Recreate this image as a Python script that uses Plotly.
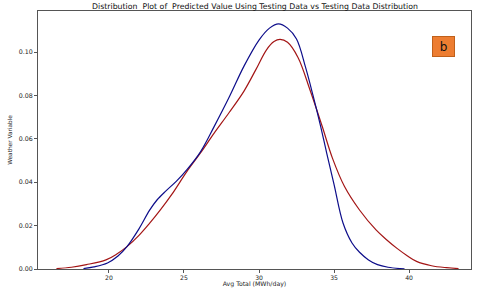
import plotly.graph_objects as go

# Predicted values (blue) density
pred_x = [18.3, 19.0, 19.9, 20.6, 21.2, 22.0, 22.7, 23.2, 23.8, 24.5, 25.2, 26.1, 27.0,
          28.0, 29.0, 30.0, 30.7, 31.3, 31.9, 32.5, 33.1, 33.6, 34.1, 34.5, 35.0, 35.6,
          36.2, 36.7, 37.3, 37.9, 38.6, 39.4, 39.7]
pred_y = [0.0002, 0.0010, 0.0028, 0.0060, 0.0103, 0.0185, 0.0270, 0.0318, 0.0360, 0.0405,
          0.0458, 0.0540, 0.0655, 0.0790, 0.0935, 0.1055, 0.1110, 0.1130, 0.1110, 0.1060,
          0.0930, 0.0800, 0.0660, 0.0538, 0.0390, 0.0212, 0.0120, 0.0077, 0.0042, 0.0020,
          0.0008, 0.0002, 0.0001]

# Testing data (red) density
test_x = [16.5, 17.5, 18.5, 19.8, 20.5, 21.2, 22.0, 22.7, 23.4, 24.2, 25.2, 26.1, 27.0,
          28.0, 29.0, 29.8, 30.5, 31.0, 31.4, 31.9, 32.6, 33.4, 34.2, 34.9, 35.7, 36.7,
          37.8, 38.5, 39.2, 39.9, 40.5, 41.5, 42.5, 43.3]
test_y = [0.0002, 0.0008, 0.0020, 0.0042, 0.0068, 0.0103, 0.0155, 0.0210, 0.0270, 0.0345,
          0.0450, 0.0535, 0.0625, 0.0720, 0.0820, 0.0920, 0.1010, 0.1048, 0.1058, 0.1045,
          0.0975, 0.0825, 0.0660, 0.0510, 0.0380, 0.0272, 0.0180, 0.0135, 0.0095, 0.0060,
          0.0035, 0.0015, 0.0006, 0.0002]

x_ticks = [20, 25, 30, 35, 40]
y_ticks = [0.00, 0.02, 0.04, 0.06, 0.08, 0.10]
y_tick_text = ["0.00", "0.02", "0.04", "0.06", "0.08", "0.10"]

FONT = "DejaVu Sans"

fig = go.Figure()
fig.add_trace(go.Scatter(x=test_x, y=test_y, mode="lines",
                         line=dict(color="#a31515", width=1.2, shape="spline", smoothing=1.0),
                         showlegend=False))
fig.add_trace(go.Scatter(x=pred_x, y=pred_y, mode="lines",
                         line=dict(color="#0d0d8a", width=1.2, shape="spline", smoothing=1.0),
                         showlegend=False))

fig.update_layout(
    width=480, height=288,
    margin=dict(l=38, r=9, t=11, b=19, autoexpand=False),
    paper_bgcolor="white", plot_bgcolor="white",
    font=dict(family=FONT, size=6, color="#222"),
    xaxis=dict(range=[15.27, 44.13], tickvals=x_ticks, showgrid=False, zeroline=False,
               showline=True, linecolor="#555", linewidth=1, mirror=True,
               ticks="outside", ticklen=3, tickcolor="#555", tickfont=dict(size=6.1),
               title=dict(text="Avg Total (MWh/day)", font=dict(size=6.2), standoff=0)),
    yaxis=dict(range=[0, 0.1189], tickvals=y_ticks, ticktext=y_tick_text, showgrid=False,
               zeroline=False, showline=True, linecolor="#555", linewidth=1, mirror=True,
               ticks="outside", ticklen=3, tickcolor="#555", tickfont=dict(size=6.3),
               title=dict(text="Weather Variable", font=dict(size=5.8), standoff=5)),
    annotations=[
        dict(text="Distribution  Plot of  Predicted Value Using Testing Data vs Testing Data Distribution",
             xref="paper", yref="paper", x=0.5, y=1, yshift=5, xanchor="center",
             yanchor="middle", showarrow=False,
             font=dict(family=FONT, size=7.8, color="#111")),
        dict(text="b", xref="paper", yref="paper", x=0.9365, y=0.862,
             xanchor="center", yanchor="middle",
             showarrow=False, font=dict(family=FONT, size=12, color="#111"),
             bgcolor="#ed7d31", bordercolor="#c0601a", borderwidth=1, borderpad=1,
             width=19, height=17, align="center", valign="middle"),
    ],
)

fig.write_html("out.html", config={"displayModeBar": False},
               post_script="document.body.style.margin='0';document.body.style.padding='0';")
